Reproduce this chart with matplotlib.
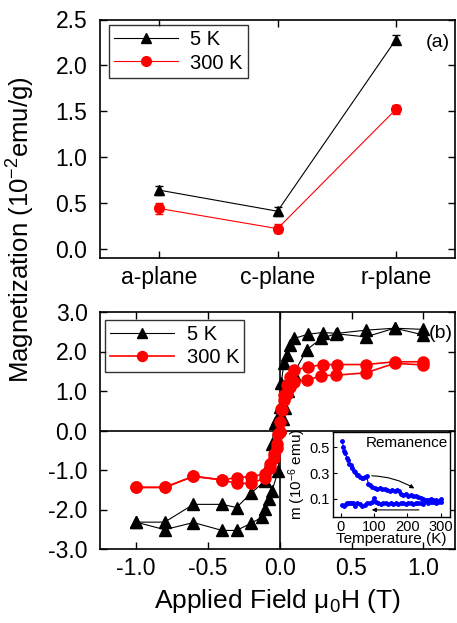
import numpy as np
import matplotlib
matplotlib.use('Agg')
import matplotlib.pyplot as plt

plt.rcParams['font.family'] = ['Liberation Sans', 'DejaVu Sans']
plt.rcParams['mathtext.fontset'] = 'custom'
plt.rcParams['mathtext.rm'] = 'Liberation Sans'
plt.rcParams['mathtext.it'] = 'Liberation Sans:italic'
plt.rcParams['axes.unicode_minus'] = False

# (a) saturation magnetization vs plane
planes = ['a-plane', 'c-plane', 'r-plane']
m_5k = [0.64, 0.41, 2.28]
err_5k = [0.05, 0.05, 0.05]
m_300k = [0.44, 0.22, 1.52]
err_300k = [0.06, 0.05, 0.05]

# (b) hysteresis loops, 5 K
h5_down = [1.0, 0.8, 0.6, 0.4, 0.3, 0.2, 0.1, 0.07, 0.05, 0.03, 0.01, 0.0, -0.02,
           -0.035, -0.053, -0.077, -0.1, -0.2, -0.3, -0.4, -0.6, -0.8, -1.0]
m5_down = [2.56, 2.59, 2.54, 2.46, 2.48, 2.44, 2.33, 2.16, 1.91, 1.70, 1.19, 0.59, 0.30,
           0.19, -0.34, -0.85, -1.27, -1.59, -1.95, -1.87, -1.87, -2.32, -2.32]
h5_up = [-1.0, -0.8, -0.6, -0.4, -0.3, -0.2, -0.12, -0.1, -0.077, -0.053, -0.01, 0.005,
         0.02, 0.04, 0.06, 0.097, 0.19, 0.29, 0.39, 0.6, 0.8, 1.0]
m5_up = [-2.32, -2.51, -2.33, -2.53, -2.53, -2.35, -2.19, -1.99, -1.74, -1.53, -1.02, 0.08,
         0.30, 0.56, 1.00, 1.44, 2.05, 2.33, 2.45, 2.37, 2.59, 2.42]

# (b) hysteresis loops, 300 K
h300_down = [1.0, 0.8, 0.6, 0.4, 0.3, 0.2, 0.1, 0.075, 0.05, 0.03, 0.01, 0.0, -0.01,
             -0.02, -0.04, -0.065, -0.1, -0.2, -0.3, -0.4, -0.6, -0.8, -1.0]
m300_down = [1.74, 1.74, 1.67, 1.67, 1.67, 1.61, 1.53, 1.35, 1.15, 0.90, 0.55, 0.21, -0.10,
             -0.35, -0.59, -0.85, -1.10, -1.17, -1.19, -1.25, -1.16, -1.44, -1.44]
h300_up = [-1.0, -0.8, -0.6, -0.4, -0.3, -0.2, -0.1, -0.065, -0.04, -0.02, 0.0, 0.016,
           0.028, 0.05, 0.075, 0.1, 0.19, 0.29, 0.39, 0.6, 0.8, 1.0]
m300_up = [-1.44, -1.44, -1.16, -1.25, -1.34, -1.34, -1.20, -0.95, -0.70, -0.45, -0.05, 0.51,
           0.76, 0.93, 1.10, 1.23, 1.27, 1.39, 1.40, 1.46, 1.70, 1.66]

# inset: remanence vs temperature
t_warm = [5, 8, 11, 14, 18, 22, 26, 30, 35, 40, 44, 48, 53, 58, 63, 68, 73, 78, 83, 88,
          95, 102, 110, 118, 125, 133, 140, 148, 155, 163, 170, 176, 180, 188, 195, 203,
          210, 218, 225, 232, 240, 248, 255, 263, 270, 278, 285, 292, 300]
rem_warm = [0.55, 0.50, 0.47, 0.46, 0.42, 0.40, 0.37, 0.36, 0.34, 0.32, 0.31, 0.29, 0.285,
            0.27, 0.265, 0.265, 0.27, 0.275, 0.22, 0.205, 0.19, 0.185, 0.18, 0.185, 0.175,
            0.18, 0.17, 0.165, 0.17, 0.165, 0.17, 0.16, 0.135, 0.13, 0.135, 0.125, 0.13,
            0.12, 0.125, 0.115, 0.11, 0.10, 0.095, 0.09, 0.10, 0.09, 0.095, 0.085, 0.10]
t_cool = [300, 292, 285, 278, 270, 262, 255, 248, 240, 232, 225, 218, 210, 202, 195, 188,
          180, 172, 165, 158, 150, 142, 135, 128, 120, 112, 105, 100, 95, 88, 80, 72, 65,
          58, 50, 43, 38, 32, 25, 20, 15, 10, 5]
rem_cool = [0.075, 0.08, 0.07, 0.075, 0.08, 0.07, 0.085, 0.06, 0.07, 0.065, 0.07, 0.06,
            0.065, 0.07, 0.06, 0.065, 0.07, 0.06, 0.065, 0.06, 0.065, 0.06, 0.07, 0.065,
            0.06, 0.07, 0.08, 0.105, 0.08, 0.065, 0.07, 0.05, 0.045, 0.06, 0.07, 0.045,
            0.065, 0.07, 0.065, 0.07, 0.06, 0.045, 0.05]

W, H = 457, 623
fig = plt.figure(figsize=(W / 100, H / 100), dpi=100)


def box(l, t, r, b):
    return [l / W, 1 - b / H, (r - l) / W, (b - t) / H]


def style(ax, size=16.5):
    for s in ax.spines.values():
        s.set_linewidth(1.2)
    ax.tick_params(direction='in', top=True, right=True, length=5, width=1,
                   labelsize=size)
    ax.tick_params(axis='y', pad=9)
    ax.tick_params(axis='x', pad=6)


# ---- panel (a)
ax1 = fig.add_axes(box(100, 19.5, 455, 258))
x = np.arange(len(planes))
ax1.errorbar(x, m_5k, yerr=err_5k, color='black', lw=0.8, marker='^', ms=7,
             capsize=3, elinewidth=0.8, label='5 K')
ax1.errorbar(x, m_300k, yerr=err_300k, color='red', lw=0.8, marker='o', ms=7,
             capsize=3, elinewidth=0.8, ecolor='red', label='300 K')
ax1.set_xlim(-0.5, 2.5)
ax1.set_ylim(-0.1, 2.5)
ax1.set_xticks(x)
ax1.set_xticklabels(planes)
ax1.set_yticks(np.arange(0, 2.51, 0.5))
ax1.yaxis.set_major_formatter(matplotlib.ticker.FormatStrFormatter('%.1f'))
style(ax1)
ax1.text(0.985, 0.905, '(a)', transform=ax1.transAxes, fontsize=14, ha='right',
         va='center')
h, l = ax1.get_legend_handles_labels()
h = [hh[0] for hh in h]
leg1 = ax1.legend(h, l, loc='upper left', bbox_to_anchor=(0.025, 0.975), fontsize=14.5,
                  frameon=True, fancybox=False, edgecolor='black', handlelength=3.2,
                  borderpad=0.25, labelspacing=0.2, handletextpad=0.6,
                  borderaxespad=0)
leg1.get_frame().set_linewidth(1)

# ---- panel (b)
ax2 = fig.add_axes(box(100, 312, 455, 549))
ax2.axhline(0, color='black', lw=1.2)
ax2.axvline(0, color='black', lw=1.2)
ax2.plot(h5_down, m5_down, color='black', lw=0.8, marker='^', ms=8, label='5 K')
ax2.plot(h5_up, m5_up, color='black', lw=0.8, marker='^', ms=8)
ax2.plot(h300_down, m300_down, color='red', lw=1.2, marker='o', ms=8, label='300 K')
ax2.plot(h300_up, m300_up, color='red', lw=1.2, marker='o', ms=8)
ax2.set_xlim(-1.25, 1.22)
ax2.set_ylim(-3, 3)
ax2.set_xticks(np.arange(-1, 1.01, 0.5))
ax2.set_yticks(np.arange(-3, 3.01, 1))
ax2.xaxis.set_major_formatter(matplotlib.ticker.FormatStrFormatter('%.1f'))
ax2.yaxis.set_major_formatter(matplotlib.ticker.FormatStrFormatter('%.1f'))
style(ax2)
ax2.text(0.995, 0.91, '(b)', transform=ax2.transAxes, fontsize=14, ha='right',
         va='center')
leg2 = ax2.legend(loc='upper left', bbox_to_anchor=(0.014, 0.965), fontsize=14.5,
                  frameon=True, fancybox=False, edgecolor='black', handlelength=3.2,
                  borderpad=0.25, labelspacing=0.2, handletextpad=0.6, markerscale=0.9,
                  borderaxespad=0)
leg2.get_frame().set_linewidth(1)
ax2.set_xlabel('Applied Field μ$_0$H (T)', fontsize=19, labelpad=5)

fig.text(21 / W, 1 - 230 / H, 'Magnetization (10$^{-2}$emu/g)', rotation=90,
         fontsize=18.5, ha='center', va='center')

# ---- inset
ax3 = fig.add_axes(box(333, 432, 450, 517))
ax3.plot(t_warm, rem_warm, color='blue', lw=0.8, marker='o', ms=2.5)
ax3.plot(t_cool, rem_cool, color='blue', lw=0.8, marker='o', ms=2.5)
ax3.set_xlim(-23, 328)
ax3.set_ylim(-0.04, 0.62)
ax3.set_xticks([0, 100, 200, 300])
ax3.set_yticks([0.1, 0.3, 0.5])
for s in ax3.spines.values():
    s.set_linewidth(1)
ax3.tick_params(direction='in', length=3, labelsize=10.5, pad=2)
ax3.set_xlabel('Temperature (K)', fontsize=11, labelpad=-1)
ax3.set_ylabel('m (10$^{-6}$ emu)', fontsize=11, labelpad=1)
ax3.text(0.985, 0.95, 'Remanence', transform=ax3.transAxes, fontsize=11,
         ha='right', va='top')
ax3.annotate('', xy=(228, 0.17), xytext=(85, 0.28),
             arrowprops=dict(arrowstyle='-|>', color='black', lw=0.8,
                             mutation_scale=6, connectionstyle='arc3,rad=-0.15'))
ax3.annotate('', xy=(85, 0.015), xytext=(243, 0.015),
             arrowprops=dict(arrowstyle='-|>', color='black', lw=0.8,
                             mutation_scale=6))

fig.savefig('out.png', dpi=100)
